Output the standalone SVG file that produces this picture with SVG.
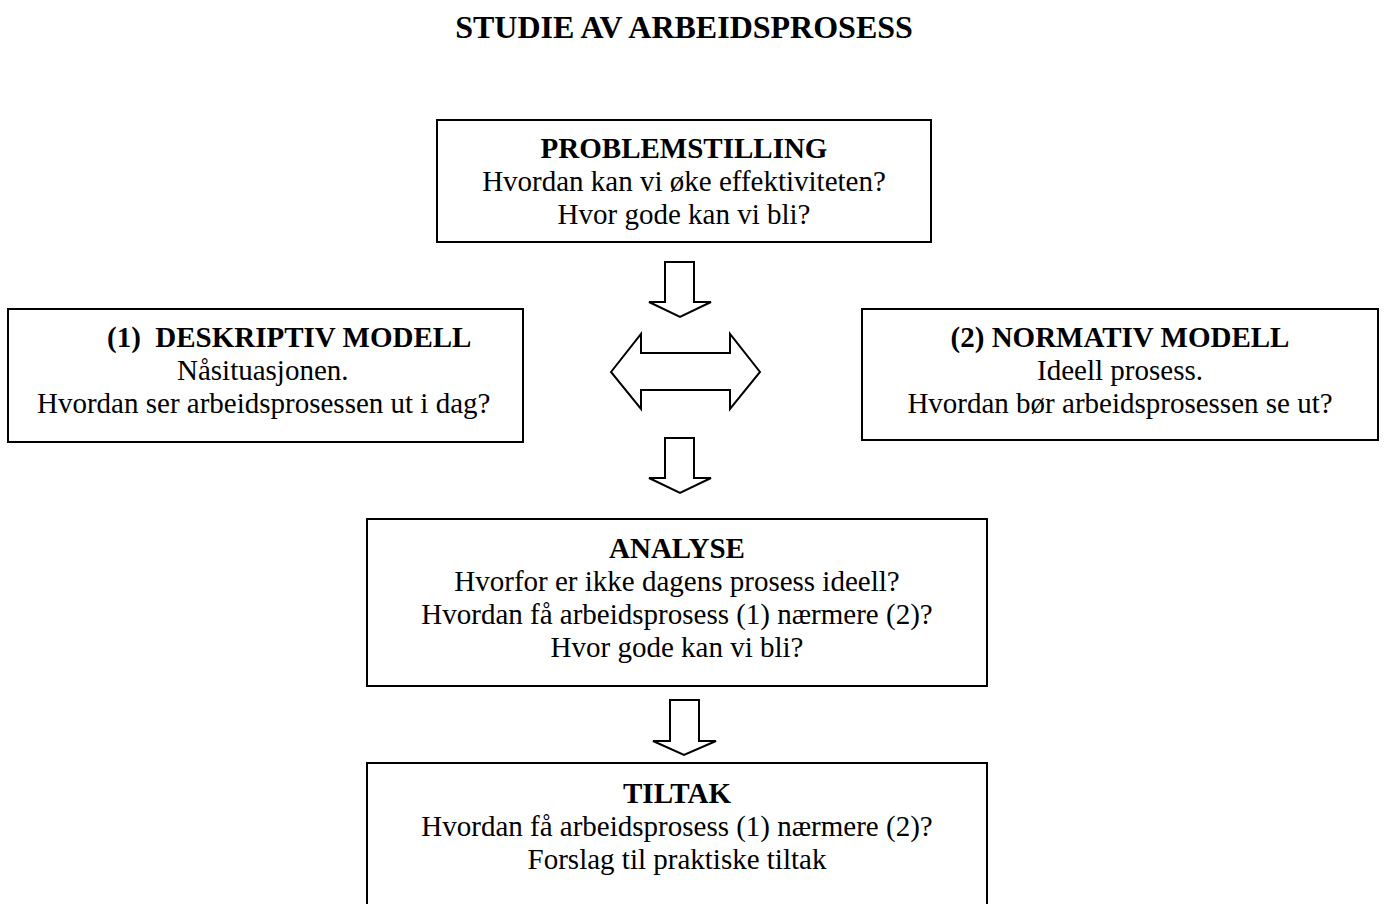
<svg xmlns="http://www.w3.org/2000/svg" width="1384" height="904" viewBox="0 0 1384 904">
  <style>
    .box { fill: #ffffff; stroke: #000000; stroke-width: 2; }
    .arrow { fill: #ffffff; stroke: #000000; stroke-width: 2; stroke-linejoin: miter; }
    text { font-family: "Liberation Serif", "Times New Roman", serif; font-size: 29px; fill: #000000; }
    .title { font-size: 32px; font-weight: bold; }
    .head { font-weight: bold; }
    .c { text-anchor: middle; }
    .pre { white-space: pre; }
  </style>
  <rect width="1384" height="904" fill="#ffffff"/>

  <text class="title c" x="684" y="38">STUDIE AV ARBEIDSPROSESS</text>

  <g id="problemstilling">
    <rect class="box" x="437" y="120" width="494" height="122"/>
    <text class="head c" x="684" y="158">PROBLEMSTILLING</text>
    <text class="c" x="684" y="191">Hvordan kan vi øke effektiviteten?</text>
    <text class="c" x="684" y="224">Hvor gode kan vi bli?</text>
  </g>

  <g id="deskriptiv">
    <rect class="box" x="8" y="309" width="515" height="133"/>
    <text class="head pre" x="107" y="347">(1)  DESKRIPTIV MODELL</text>
    <text x="177" y="380">Nåsituasjonen.</text>
    <text x="37" y="413">Hvordan ser arbeidsprosessen ut i dag?</text>
  </g>

  <g id="normativ">
    <rect class="box" x="862" y="309" width="516" height="131"/>
    <text class="head c" x="1120" y="347">(2) NORMATIV MODELL</text>
    <text class="c" x="1120" y="380">Ideell prosess.</text>
    <text class="c" x="1120" y="413">Hvordan bør arbeidsprosessen se ut?</text>
  </g>

  <g id="analyse">
    <rect class="box" x="367" y="519" width="620" height="167"/>
    <text class="head c" x="677" y="558">ANALYSE</text>
    <text class="c" x="677" y="591">Hvorfor er ikke dagens prosess ideell?</text>
    <text class="c" x="677" y="624">Hvordan få arbeidsprosess (1) nærmere (2)?</text>
    <text class="c" x="677" y="657">Hvor gode kan vi bli?</text>
  </g>

  <g id="tiltak">
    <rect class="box" x="367" y="763" width="620" height="200"/>
    <text class="head c" x="677" y="803">TILTAK</text>
    <text class="c" x="677" y="836">Hvordan få arbeidsprosess (1) nærmere (2)?</text>
    <text class="c" x="677" y="869">Forslag til praktiske tiltak</text>
  </g>

  <g id="connectors">
    <!-- block arrow: problemstilling down to the models -->
    <polygon class="arrow" points="665,262 694,262 694,302 711,302 680,317 649,302 665,302"/>
    <!-- two-way block arrow between the two models -->
    <polygon class="arrow" points="611,372 641,334 641,353 730,353 730,334 760,372 730,409 730,390 641,390 641,409"/>
    <!-- block arrow: models down to analyse -->
    <polygon class="arrow" points="665,438 694,438 694,478 711,478 680,493 649,478 665,478"/>
    <!-- block arrow: analyse down to tiltak -->
    <polygon class="arrow" points="670,700 699,700 699,741 716,741 684,755 653,741 670,741"/>
  </g>
</svg>
